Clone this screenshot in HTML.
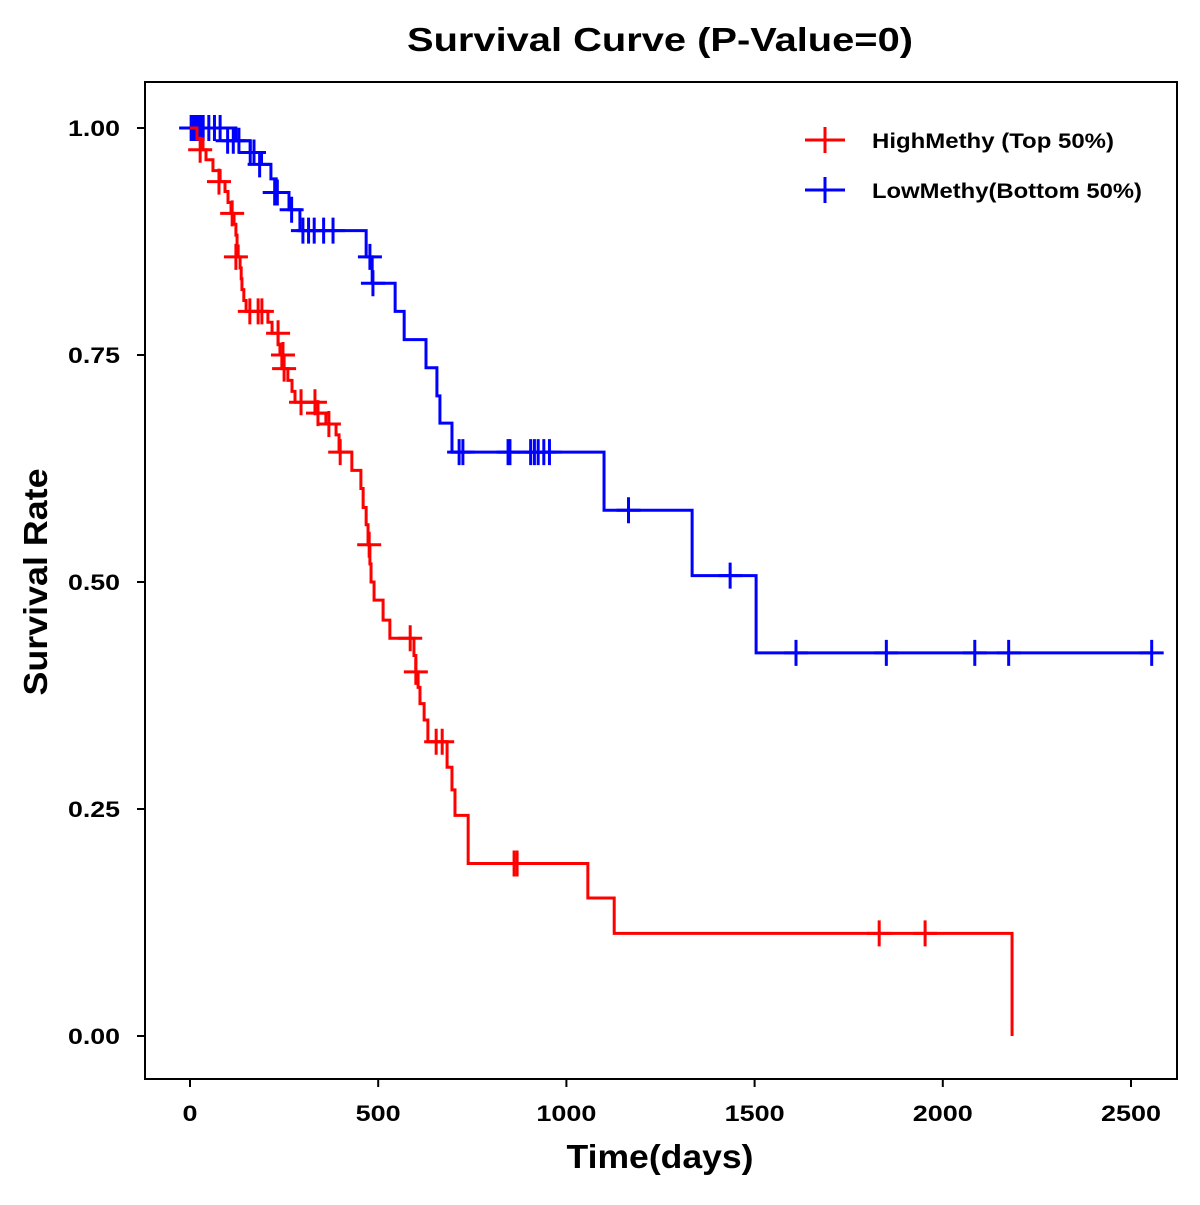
<!DOCTYPE html>
<html><head><meta charset="utf-8"><style>
body{margin:0;background:#fff}
svg text{font-family:"Liberation Sans",Arial,sans-serif;font-weight:bold;fill:#000}
</style></head><body>
<svg id="chart" width="1200" height="1200" viewBox="0 0 1200 1200">
<rect width="1200" height="1200" fill="#fff"/>
<text x="660" y="51" font-size="33" text-anchor="middle" textLength="506" lengthAdjust="spacingAndGlyphs">Survival Curve (P-Value=0)</text>
<rect x="145" y="82" width="1032" height="997" fill="none" stroke="#000" stroke-width="2"/>
<g id="axes"></g>
<g id="series"></g>
<text x="660" y="1168" font-size="33" text-anchor="middle" textLength="187" lengthAdjust="spacingAndGlyphs">Time(days)</text>
<text transform="translate(47,582) rotate(-90)" font-size="33" text-anchor="middle" textLength="227" lengthAdjust="spacingAndGlyphs">Survival Rate</text>
<g>
<g><line x1="805" y1="140" x2="845" y2="140" stroke="#f00" stroke-width="3"/><line x1="825" y1="127" x2="825" y2="153" stroke="#f00" stroke-width="3"/><text x="872" y="148" font-size="21" textLength="242" lengthAdjust="spacingAndGlyphs">HighMethy (Top 50%)</text></g>
<g><line x1="805" y1="190" x2="845" y2="190" stroke="#00f" stroke-width="3"/><line x1="825" y1="177" x2="825" y2="203" stroke="#00f" stroke-width="3"/><text x="872" y="198" font-size="21" textLength="270" lengthAdjust="spacingAndGlyphs">LowMethy(Bottom 50%)</text></g>
</g>
</svg>
<script>
const xTicks=[0,500,1000,1500,2000,2500];
const yTicks=[0,0.25,0.5,0.75,1.0];
const yTickLabels=["0.00","0.25","0.50","0.75","1.00"];
const highTimes=[0,18.6,34.5,42.5,61,80,93,101,109,117,122,125,128,133,136,138,143,149,207,218,234,239,244,260,271,279,340,361,388,396,430,454,460,468,473,478,481,489,513,531,595,600,606,611,622,632,683,696,704,739,1057,1127,2184];
const highSurv=[1,0.988,0.976,0.965,0.953,0.941,0.93,0.918,0.906,0.894,0.882,0.87,0.858,0.846,0.834,0.822,0.81,0.798,0.786,0.774,0.762,0.75,0.735,0.722,0.71,0.698,0.686,0.674,0.662,0.643,0.623,0.603,0.582,0.563,0.541,0.52,0.5,0.48,0.458,0.438,0.419,0.401,0.384,0.366,0.348,0.324,0.296,0.271,0.243,0.19,0.152,0.113,0];
const highCensorTimes=[27,77,112,122,159,181,191,234,247,250,295,332,340,369,399,476,585,600,654,670,861,869,1831,1953];
const highCensorSurv=[0.976,0.941,0.906,0.858,0.798,0.798,0.798,0.774,0.75,0.735,0.698,0.698,0.686,0.674,0.643,0.541,0.438,0.401,0.324,0.324,0.19,0.19,0.113,0.113];
const lowTimes=[0,122,160,190,215,229,263,292,468,484,545,569,627,656,664,696,1100,1334,1504];
const lowSurv=[1,0.986,0.973,0.96,0.944,0.929,0.91,0.887,0.858,0.829,0.798,0.767,0.736,0.705,0.675,0.643,0.579,0.507,0.422];
const lowEnd=2555;
const lowCensorTimes=[3,8,13,18,23,28,35,50,65,80,100,115,130,160,170,185,225,232,270,300,315,330,355,380,478,486,715,725,845,850,905,915,925,940,955,1165,1435,1610,1850,2085,2175,2555];
const lowCensorSurv=[1,1,1,1,1,1,1,1,1,1,0.986,0.986,0.986,0.973,0.973,0.96,0.929,0.929,0.91,0.887,0.887,0.887,0.887,0.887,0.858,0.829,0.643,0.643,0.643,0.643,0.643,0.643,0.643,0.643,0.643,0.579,0.507,0.422,0.422,0.422,0.422,0.422];

const NS="http://www.w3.org/2000/svg";
const X=d=>190+d*941/2500;
const Y=s=>1036-s*908;
function mk(tag,attrs,parent){const e=document.createElementNS(NS,tag);for(const k in attrs)e.setAttribute(k,attrs[k]);parent.appendChild(e);return e;}
const axes=document.getElementById('axes');
xTicks.forEach(t=>{
  const l=mk('line',{x1:X(t),x2:X(t),y1:1079,y2:1087,stroke:'#000','stroke-width':2},axes);
  
  
  const s=String(t);
  const tx=mk('text',{x:X(t),y:1121,'font-size':22,'text-anchor':'middle',textLength:s.length*15,lengthAdjust:'spacingAndGlyphs'},axes);tx.textContent=s;
  
  
});
yTicks.forEach((t,i)=>{
  const l=mk('line',{x1:137,x2:145,y1:Y(t),y2:Y(t),stroke:'#000','stroke-width':2},axes);
  
  
  const tx=mk('text',{x:120,y:Y(t)+8,'font-size':22,'text-anchor':'end',textLength:52,lengthAdjust:'spacingAndGlyphs'},axes);tx.textContent=yTickLabels[i];
  
  
});
const series=document.getElementById('series');
function stepPath(times,surv,end){
  let d='M'+X(times[0])+','+Y(surv[0]);
  for(let i=1;i<times.length;i++){d+=' H'+X(times[i])+' V'+Y(surv[i]);}
  if(end!==undefined)d+=' H'+X(end);
  return d;
}
function draw(times,surv,end,ct,cs,color,name){
  const g=mk('g',{},series);
  
  
  const p=mk('path',{d:stepPath(times,surv,end),fill:'none',stroke:color,'stroke-width':3},g);
  
  
  ct.forEach((t,i)=>{
    const x=X(t),y=Y(cs[i]);
    const c=mk('path',{d:`M${x-12},${y} H${x+12} M${x},${y-13} V${y+13}`,stroke:color,'stroke-width':3,fill:'none'},g);
    
    
  });
}
draw(lowTimes,lowSurv,lowEnd,lowCensorTimes,lowCensorSurv,'#00f','low-methy');
draw(highTimes,highSurv,undefined,highCensorTimes,highCensorSurv,'#f00','high-methy');
</script>
</body></html>
